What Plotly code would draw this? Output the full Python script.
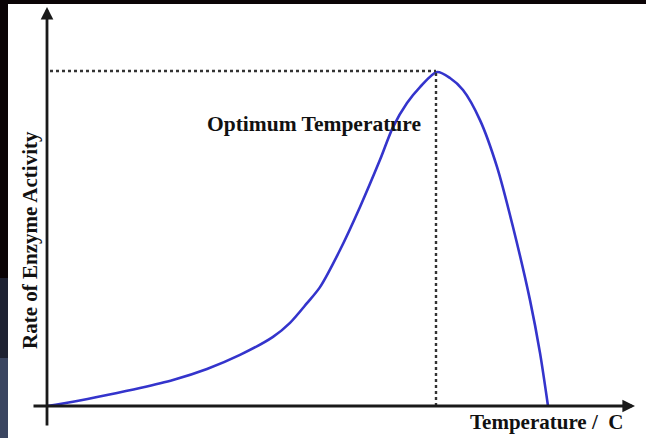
import plotly.graph_objects as go

# Data (arbitrary units)
temperature = [0, 5.2, 12, 18.6, 25.2, 32, 38.6, 45.2, 48.6, 52, 54.6, 58.6, 62.6,
               66.6, 69.2, 72, 74.6, 78, 80.6, 83.2, 86.6, 90, 93.2, 96.6, 98.6, 100.2]
rate = [0, 1.3, 3.3, 5.4, 7.8, 11.1, 15.3, 20.7, 24.9, 30.8, 35.6, 46.7, 59.6,
        73.7, 83.5, 90.7, 95.5, 100, 98.2, 94.6, 85.6, 71.6, 53.6, 31.7, 15.9, 0]
t_opt = 77.8
r_max = 100.3

x_title = "Temperature /\u00a0\u00a0C"
y_title = "Rate of Enzyme Activity"
opt_label = "Optimum Temperature"

X_RANGE = [-9.4, 119.8]
Y_RANGE = [-9.58, 121.56]

FONT = "Liberation Serif, Times New Roman, serif"
AXC = "#1a1a1a"

fig = go.Figure()

fig.add_trace(go.Scatter(
    x=temperature, y=rate, mode="lines",
    line=dict(color="#3434cc", width=2.6, shape="spline", smoothing=0.8),
    hoverinfo="skip", showlegend=False,
))

shapes = [
    # white page area over dark slide background
    dict(type="rect", xref="paper", yref="paper", x0=8 / 646, x1=1, y0=0, y1=1 - 4 / 438,
         fillcolor="white", line=dict(width=0), layer="below"),
    dict(type="rect", xref="paper", yref="paper", x0=0, x1=8 / 646, y0=0, y1=80 / 438,
         fillcolor="#3a4560", line=dict(width=0), layer="below"),
    dict(type="rect", xref="paper", yref="paper", x0=0, x1=8 / 646, y0=80 / 438, y1=160 / 438,
         fillcolor="#1e2232", line=dict(width=0), layer="below"),
    # dotted guide lines
    dict(type="line", xref="x", yref="y", x0=0.6, x1=t_opt, y0=r_max, y1=r_max,
         line=dict(color="#333333", width=2.4, dash="dot")),
    dict(type="line", xref="x", yref="y", x0=t_opt, x1=t_opt, y0=0, y1=r_max,
         line=dict(color="#333333", width=2.4, dash="dot")),
]

annotations = [
    # x axis with arrow
    dict(x=117.6, y=0, ax=-3, ay=0, xref="x", yref="y", axref="x", ayref="y",
         showarrow=True, arrowhead=2, arrowsize=0.9, arrowwidth=2.8,
         arrowcolor=AXC, standoff=0, text=""),
    # y axis with arrow
    dict(x=0, y=119.5, ax=0, ay=-6.3, xref="x", yref="y", axref="x", ayref="y",
         showarrow=True, arrowhead=2, arrowsize=0.9, arrowwidth=2.8,
         arrowcolor=AXC, standoff=0, text=""),
    dict(x=84.2, y=-4.9, xref="x", yref="y", text="<b>" + x_title + "</b>",
         showarrow=False, xanchor="left", yanchor="middle",
         font=dict(family=FONT, size=21, color="#111111")),
    dict(x=-3.4, y=49.7, xref="x", yref="y", text="<b>" + y_title + "</b>",
         showarrow=False, textangle=-90, xanchor="center", yanchor="middle",
         font=dict(family=FONT, size=21, color="#111111")),
    dict(x=31.6, y=84.3, xref="x", yref="y", text="<b>" + opt_label + "</b>",
         showarrow=False, xanchor="left", yanchor="middle",
         font=dict(family=FONT, size=21.5, color="#111111")),
]

fig.update_layout(
    width=646, height=438,
    margin=dict(l=0, r=0, t=0, b=0),
    paper_bgcolor="#0b0406",
    plot_bgcolor="rgba(0,0,0,0)",
    xaxis=dict(range=X_RANGE, visible=False, fixedrange=True),
    yaxis=dict(range=Y_RANGE, visible=False, fixedrange=True),
    shapes=shapes,
    annotations=annotations,
    showlegend=False,
)

fig.write_html(
    "out.html",
    config={"displayModeBar": False},
    post_script="document.body.style.margin='0';document.body.style.overflow='hidden';"
                "document.body.style.background='#0b0406';",
)
